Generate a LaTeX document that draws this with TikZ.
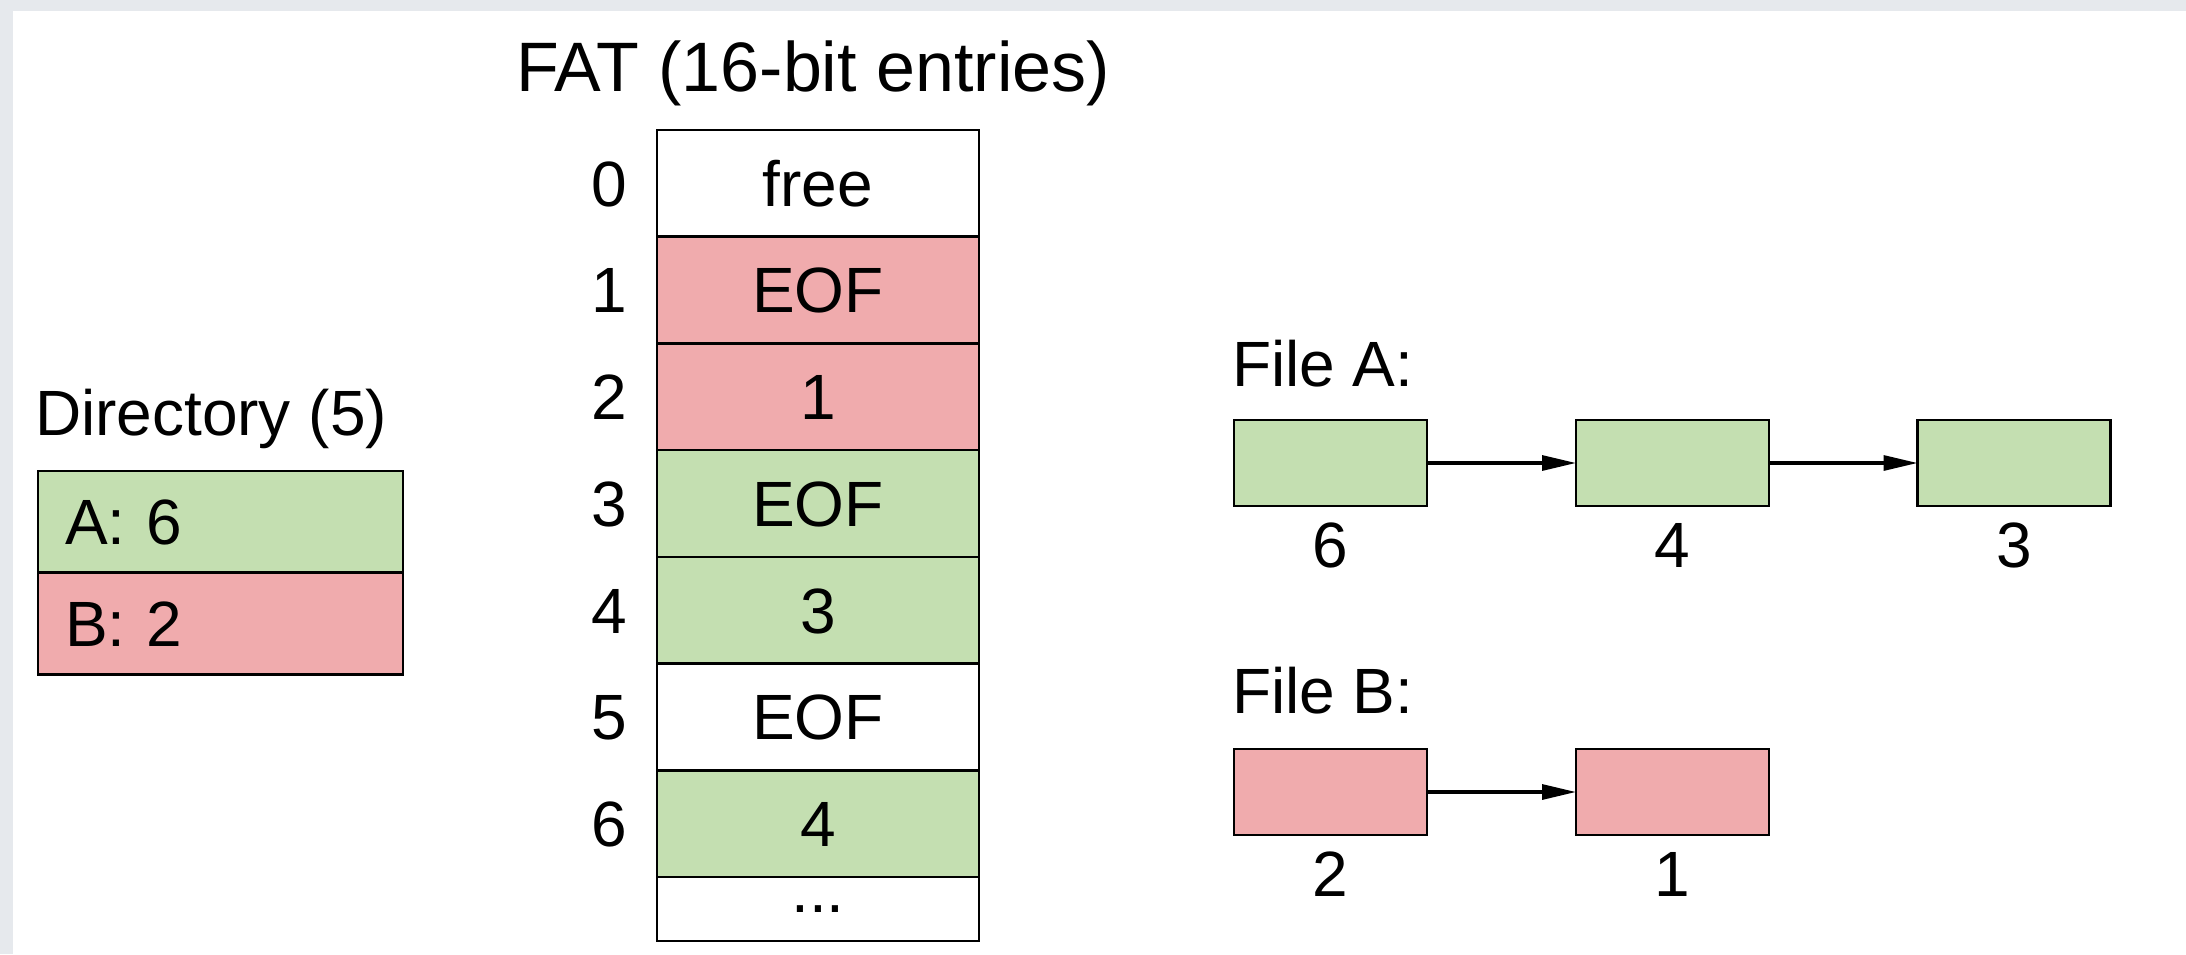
\documentclass[tikz,border=0pt]{standalone}
\usepackage{fontspec}
\setmainfont{Liberation Sans}
\usetikzlibrary{arrows.meta}
\definecolor{cgreen}{RGB}{196,223,177}
\definecolor{cpink}{RGB}{240,171,173}
\definecolor{cgray}{RGB}{230,233,237}
\tikzset{
  txt/.style={font=\fontsize{32}{38}\selectfont, inner sep=0pt, outer sep=0pt},
  ttl/.style={font=\fontsize{35}{42}\selectfont, inner sep=0pt, outer sep=0pt},
  captxt/.style={text height=22.9pt, text depth=0pt},
  cell/.style={txt, captxt, draw=black, line width=1.3pt, minimum width=161pt, minimum height=53.36pt},
  lastcell/.style={txt, draw=black, line width=1.3pt, minimum width=161pt, minimum height=32pt, text height=3.4pt, text depth=0pt},
  idx/.style={txt, captxt, anchor=east},
  dirbox/.style={txt, captxt, draw=black, line width=1.3pt, minimum height=51pt, inner xsep=13.5pt, text width=155.5pt, align=left},
  blk/.style={draw=black, line width=1.3pt, minimum width=96.5pt, minimum height=43pt, inner sep=0pt, outer sep=0pt},
  arr/.style={line width=1.6pt, -{Triangle[length=17pt,width=7.5pt]}},
}
\begin{document}
\begin{tikzpicture}[x=0.5pt,y=-0.5pt]
\fill[cgray] (0,0) rectangle (2186,954);
\fill[white] (13,11) rectangle (2186,954);
\useasboundingbox (0,0) rectangle (2186,954);

% Directory
\node[txt, anchor=base west] (dirtitle) at (35,435) {Directory (5)};
\node[dirbox, fill=cgreen] (dA) at (220.5,522) {A: 6};
\node[dirbox, fill=cpink] (dB) at (220.5,623.5) {B: 2};

% FAT
\node[ttl, anchor=base west] (fattitle) at (516,91) {FAT (16-bit entries)};
\node[cell, fill=white]  (f0) at (818,183.36) {free};
\node[cell, fill=cpink]  (f1) at (818,290.07) {EOF};
\node[cell, fill=cpink]  (f2) at (818,396.78) {1};
\node[cell, fill=cgreen] (f3) at (818,503.49) {EOF};
\node[cell, fill=cgreen] (f4) at (818,610.2) {3};
\node[cell, fill=white]  (f5) at (818,716.91) {EOF};
\node[cell, fill=cgreen] (f6) at (818,823.62) {4};
\node[lastcell, fill=white] (f7) at (818,909) {...};
\node[idx] (i0) at (627,183.36) {0};
\node[idx] (i1) at (627,290.07) {1};
\node[idx] (i2) at (627,396.78) {2};
\node[idx] (i3) at (627,503.49) {3};
\node[idx] (i4) at (627,610.2) {4};
\node[idx] (i5) at (627,716.91) {5};
\node[idx] (i6) at (627,823.62) {6};

% File A
\node[txt, anchor=base west] (fileA) at (1232,386) {File A:};
\node[blk, fill=cgreen] (a1) at (1330.5,463) {};
\node[blk, fill=cgreen] (a2) at (1672.5,463) {};
\node[blk, fill=cgreen] (a3) at (2014,463) {};
\node[txt, anchor=base] (la1) at (1330.5,567) {6};
\node[txt, anchor=base] (la2) at (1672.5,567) {4};
\node[txt, anchor=base] (la3) at (2014,567) {3};
\draw[arr] (a1.east) -- (a2.west);
\draw[arr] (a2.east) -- (a3.west);

% File B
\node[txt, anchor=base west] (fileB) at (1232,713) {File B:};
\node[blk, fill=cpink] (b1) at (1330.5,792) {};
\node[blk, fill=cpink] (b2) at (1672.5,792) {};
\node[txt, anchor=base] (lb1) at (1330.5,896) {2};
\node[txt, anchor=base] (lb2) at (1672.5,896) {1};
\draw[arr] (b1.east) -- (b2.west);
\end{tikzpicture}
\end{document}
